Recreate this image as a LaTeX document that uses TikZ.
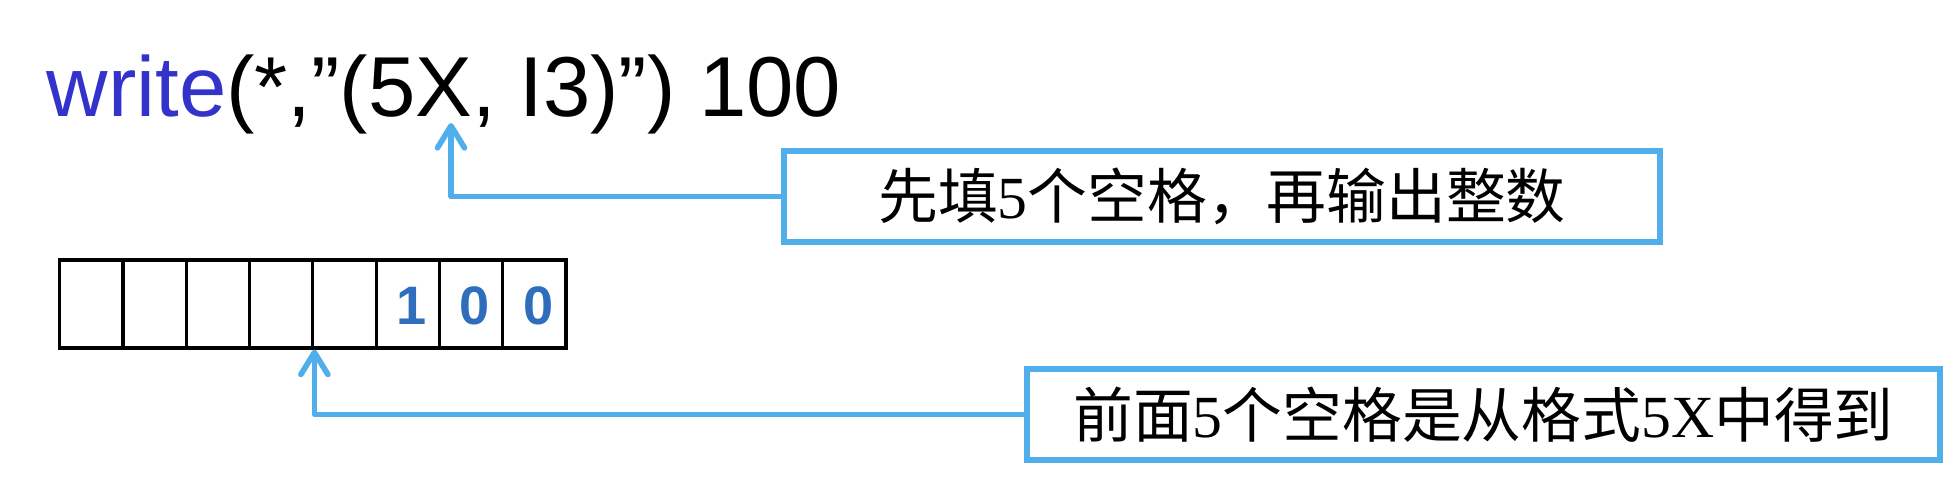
\documentclass[tikz,border=0pt]{standalone}
\usepackage{fontspec}
\setmainfont{Liberation Serif}
\newfontfamily\codefont{Liberation Sans}
\newfontfamily\cjk{Noto Sans CJK SC}
\usetikzlibrary{arrows.meta}
\definecolor{kwblue}{RGB}{51,51,204}
\definecolor{digitblue}{RGB}{46,110,189}
\definecolor{lineblue}{RGB}{80,174,234}

\begin{document}
\begin{tikzpicture}[x=0.01cm, y=-0.01cm,
    cell/.style={draw, line width=0.9pt, minimum width=0.633cm, minimum height=0.88cm, inner sep=0},
    digit/.style={inner sep=0, text=digitblue, font=\codefont\bfseries\fontsize{15.4pt}{18pt}\selectfont},
    note/.style={draw=lineblue, line width=1.75pt, minimum height=0.91cm, inner sep=0, font=\fontsize{17pt}{20pt}\selectfont},
    pointer/.style={lineblue, line width=1.6pt, line cap=round, line join=round, -{Straight Barb[round, length=0.22cm, width=0.27cm]}}]
    \useasboundingbox (0,0) rectangle (1956,499);
    % statement
    \node[anchor=base west, inner sep=0, font=\codefont\fontsize{24.2pt}{28pt}\selectfont] (code) at (46,116)
        {\textcolor{kwblue}{write}(*,”(5X, I3)”) 100};
    \coordinate (xtip) at (451,123);
    % output field
    \foreach \i in {1,...,8}
        \node[cell] (c\i) at (59.6+63.3*\i-31.65, 304) {};
    \foreach \i/\d in {6/1,7/0,8/0}
        \node[digit] (d\i) at ([xshift=0.04cm, yshift=-0.02cm]c\i) {\d};
    % notes
    \node[note, minimum width=8.76cm] (fill) at (1222,196.5) {{\cjk 先填}5{\cjk 个空格，再输出整数}};
    \node[note, minimum width=9.13cm] (origin) at (1483.5,414.5) {{\cjk 前面}5{\cjk 个空格是从格式}5X{\cjk 中得到}};
    \draw[pointer] (fill.west) -| (xtip);
    \draw[pointer] (origin.west) -| (c4.south east);
\end{tikzpicture}
\end{document}
